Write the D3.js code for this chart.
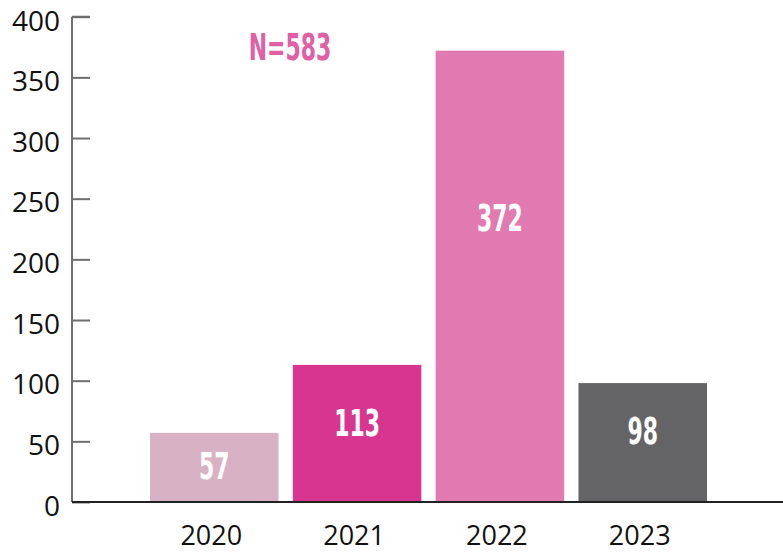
<!DOCTYPE html>
<html>
<head>
<meta charset="utf-8">
<script src="https://cdn.jsdelivr.net/npm/d3@7"></script>
<style>
  body { margin: 0; background: #fff; }
  svg { display: block; }
</style>
</head>
<body>
<div id="chart"></div>
<script>
// data
const years = ["2020", "2021", "2022", "2023"];
const counts = [57, 113, 372, 98];
const barColors = ["#d8b2c4", "#d73590", "#e07ab1", "#646466"];
const labelAt = [0.52, 0.58, 0.63, 0.6]; // where the value label sits, as share of bar height
const yTicks = [0, 50, 100, 150, 200, 250, 300, 350, 400];
const totalLabel = "N=583";

let width = 783, height = 552;
const condensed = "'Liberation Sans Narrow', 'DejaVu Sans Condensed', sans-serif";
const squeeze = 0.66; // the original uses a very narrow face

const svg = d3.select("#chart")
        .append("svg")
        .attr("width", width)
        .attr("height", height);

const x = d3.scaleBand()
        .domain(years)
        .range([150, 707])
        .paddingInner(0.1)
        .paddingOuter(0);

const y = d3.scaleLinear()
        .domain([0, 400])
        .range([502, 16.7]);

// y axis, ticks point into the plot
const yAxis = svg.append("g")
        .attr("transform", "translate(72,0)")
        .call(d3.axisRight(y).tickValues(yTicks).tickSize(18).tickFormat(""));
yAxis.select(".domain").attr("stroke", "#6e6e6e").attr("stroke-width", 2)
        .attr("d", `M0,${y(400)}H18M0,${y(400)}V${y(0)}`);
yAxis.selectAll(".tick line").attr("stroke", "#6e6e6e").attr("stroke-width", 2);

svg.append("g").selectAll("text")
        .data(yTicks)
        .enter()
        .append("text")
        .attr("x", 60)
        .attr("y", d => y(d) + 4)
        .attr("dy", "0.35em")
        .attr("text-anchor", "end")
        .attr("font-family", "'Open Sans', sans-serif")
        .attr("font-size", 28)
        .attr("fill", "#111")
        .text(d => d);

// bars
const bars = svg.selectAll(".bar")
        .data(years.map((yr, i) => ({yr, v: counts[i], c: barColors[i], at: labelAt[i]})))
        .enter()
        .append("g")
        .attr("class", "bar");

bars.append("rect")
        .attr("x", d => x(d.yr))
        .attr("y", d => y(d.v))
        .attr("width", x.bandwidth())
        .attr("height", d => y(0) - y(d.v))
        .attr("fill", d => d.c);

bars.append("text")
        .attr("transform", d => `translate(${x(d.yr) + x.bandwidth() / 2},${y(d.v * d.at)}) scale(${squeeze},1)`)
        .attr("dy", "0.36em")
        .attr("text-anchor", "middle")
        .attr("font-family", condensed)
        .attr("font-weight", "bold")
        .attr("font-size", 37)
        .attr("fill", "#fff")
        .text(d => d.v);

// baseline
svg.append("line")
        .attr("x1", 72).attr("x2", width)
        .attr("y1", y(0)).attr("y2", y(0))
        .attr("stroke", "#222")
        .attr("stroke-width", 2);

// x labels
svg.append("g").selectAll("text")
        .data(years)
        .enter()
        .append("text")
        .attr("x", d => x(d) + x.bandwidth() / 2 - 3)
        .attr("y", 545)
        .attr("text-anchor", "middle")
        .attr("font-family", "'Open Sans', sans-serif")
        .attr("font-size", 27)
        .attr("fill", "#111")
        .text(d => d);

// total
svg.append("text")
        .attr("transform", `translate(290,${y(375)}) scale(${squeeze},1)`)
        .attr("dy", "0.36em")
        .attr("text-anchor", "middle")
        .attr("font-family", condensed)
        .attr("font-weight", "bold")
        .attr("font-size", 37)
        .attr("fill", "#e05fa5")
        .text(totalLabel);
</script>
</body>
</html>
